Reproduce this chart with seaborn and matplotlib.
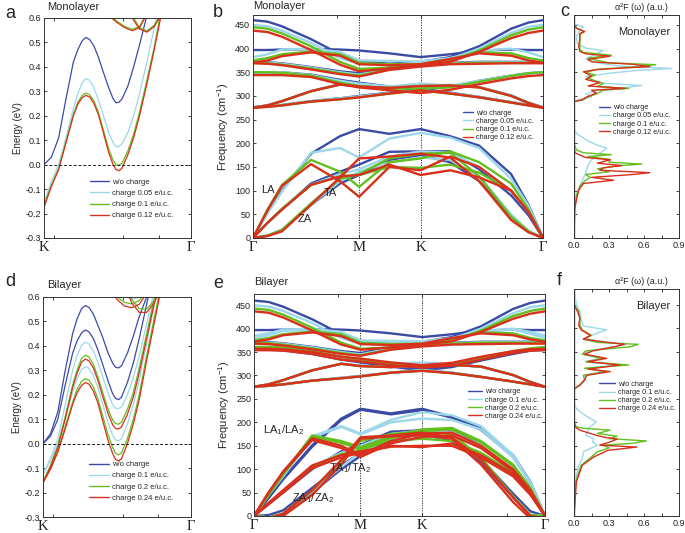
import numpy as np
import matplotlib
matplotlib.use("Agg")
import matplotlib.pyplot as plt
from matplotlib.lines import Line2D
from matplotlib.ticker import FormatStrFormatter, FixedLocator, MultipleLocator
import seaborn as sns

sns.set_theme(style="ticks")
plt.rcParams['font.family'] = ['Liberation Sans', 'DejaVu Sans']
plt.rcParams['axes.unicode_minus'] = False
plt.rcParams['mathtext.fontset'] = 'custom'
plt.rcParams['mathtext.rm'] = 'Liberation Sans'
plt.rcParams['mathtext.it'] = 'Liberation Sans:italic'

colors = ['#3b4ba5', '#9dd8ea', '#63bf1e', '#d8301c']
mono_labels = ['w/o charge', 'charge 0.05 e/u.c.', 'charge 0.1 e/u.c.', 'charge 0.12 e/u.c.']
bi_labels = ['w/o charge', 'charge 0.1 e/u.c.', 'charge 0.2 e/u.c.', 'charge 0.24 e/u.c.']

# ---- conduction bands (K -> Gamma) ----
k_el = [0, 0.05, 0.1, 0.15, 0.2, 0.23, 0.26, 0.285, 0.31, 0.34, 0.37, 0.4, 0.44, 0.47, 0.49, 0.51, 0.53,
        0.57, 0.61, 0.65, 0.7, 0.75, 0.8]
k_top = [0.45, 0.5, 0.55, 0.6, 0.65, 0.7, 0.75, 0.8]

el_mono_wo = [0.0, 0.03, 0.11, 0.27, 0.42, 0.47, 0.507, 0.52, 0.512, 0.485, 0.44, 0.385, 0.315, 0.27, 0.253, 0.255,
              0.268, 0.32, 0.40, 0.49, 0.61, 0.74, 0.87]
el_mono_005 = [-0.155, -0.07, 0.0, 0.11, 0.23, 0.29, 0.335, 0.352, 0.345, 0.315, 0.265, 0.21, 0.13, 0.09, 0.073, 0.074,
               0.085, 0.13, 0.2, 0.29, 0.42, 0.56, 0.7]
el_mono_01 = [-0.165, -0.085, -0.015, 0.095, 0.205, 0.255, 0.283, 0.292, 0.286, 0.26, 0.215, 0.15, 0.065, 0.018, 0.0,
              -0.003, 0.005, 0.055, 0.125, 0.215, 0.345, 0.48, 0.64]
el_mono_012 = [-0.175, -0.09, -0.02, 0.09, 0.2, 0.247, 0.274, 0.283, 0.277, 0.25, 0.205, 0.14, 0.05, 0.0, -0.02,
               -0.025, -0.015, 0.04, 0.11, 0.2, 0.33, 0.47, 0.62]
top_mono_01 = [[0.61, 0.585, 0.565, 0.553, 0.565, 0.62, 0.7, 0.8], [0.9, 0.8, 0.7, 0.61, 0.56, 0.547, 0.57, 0.62]]
top_mono_012 = [[0.605, 0.58, 0.56, 0.548, 0.56, 0.615, 0.69, 0.79], [0.89, 0.79, 0.69, 0.6, 0.555, 0.542, 0.565, 0.615]]

el_bi_wo = [[0.0, 0.04, 0.13, 0.30, 0.45, 0.51, 0.552, 0.565, 0.558, 0.53, 0.485, 0.44, 0.37, 0.33, 0.312, 0.31, 0.318,
             0.37, 0.44, 0.52, 0.6, 0.72, 0.85],
            [0.0, 0.03, 0.10, 0.24, 0.37, 0.42, 0.453, 0.465, 0.458, 0.43, 0.385, 0.33, 0.255, 0.205, 0.185, 0.18, 0.19,
             0.25, 0.33, 0.43, 0.57, 0.71, 0.85]]
el_bi_01 = [[-0.125, -0.06, 0.02, 0.16, 0.30, 0.36, 0.402, 0.415, 0.408, 0.38, 0.335, 0.28, 0.205, 0.16, 0.145, 0.143,
             0.15, 0.2, 0.27, 0.36, 0.49, 0.62, 0.75],
            [-0.125, -0.07, 0.0, 0.11, 0.21, 0.265, 0.302, 0.315, 0.308, 0.28, 0.23, 0.17, 0.085, 0.035, 0.015, 0.012,
             0.02, 0.08, 0.16, 0.26, 0.41, 0.56, 0.71]]
el_bi_02 = [[-0.155, -0.09, -0.01, 0.11, 0.24, 0.3, 0.348, 0.362, 0.355, 0.325, 0.275, 0.215, 0.14, 0.097, 0.082, 0.08,
             0.088, 0.14, 0.21, 0.31, 0.45, 0.59, 0.73],
            [-0.155, -0.10, -0.03, 0.07, 0.17, 0.222, 0.254, 0.266, 0.26, 0.232, 0.185, 0.12, 0.035, -0.015, -0.04,
             -0.046, -0.038, 0.02, 0.1, 0.2, 0.36, 0.51, 0.66]]
el_bi_024 = [[-0.16, -0.095, -0.015, 0.10, 0.23, 0.288, 0.333, 0.346, 0.339, 0.31, 0.26, 0.2, 0.122, 0.078, 0.062, 0.06,
              0.068, 0.12, 0.19, 0.29, 0.43, 0.57, 0.71],
             [-0.16, -0.105, -0.035, 0.06, 0.16, 0.208, 0.238, 0.25, 0.244, 0.215, 0.168, 0.1, 0.012, -0.04, -0.065,
              -0.07, -0.062, 0.0, 0.08, 0.18, 0.34, 0.49, 0.64]]
top_bi_01 = [[0.7, 0.64, 0.605, 0.59, 0.6, 0.64, 0.71, 0.8]]
top_bi_02 = [[0.64, 0.6, 0.578, 0.572, 0.585, 0.63, 0.7, 0.8], [0.9, 0.78, 0.67, 0.59, 0.552, 0.55, 0.585, 0.65]]
top_bi_024 = [[0.63, 0.59, 0.563, 0.556, 0.57, 0.615, 0.69, 0.79], [0.88, 0.76, 0.65, 0.575, 0.537, 0.537, 0.575, 0.64]]

# ---- phonon dispersions, path G-M-K-G ----
q_path = [0, 0.05, 0.1, 0.2, 0.3, 0.366, 0.47, 0.578, 0.68, 0.78, 0.89, 0.95, 1.0]

ph_mono_wo = [
    [0, 55, 100, 178, 215, 230, 220, 230, 215, 195, 135, 70, 0],
    [0, 32, 60, 115, 140, 155, 182, 183, 183, 145, 90, 48, 0],
    [0, 5, 17, 70, 115, 133, 165, 175, 160, 120, 45, 14, 0],
    [460, 457, 447, 420, 388, 374, 368, 372, 382, 405, 442, 455, 460],
    [397, 397, 398, 399, 398, 396, 390, 382, 388, 396, 398, 397, 397],
    [372, 371, 369, 361, 352, 348, 360, 367, 370, 372, 372, 372, 372],
    [350, 350, 350, 345, 334, 328, 320, 312, 320, 332, 343, 348, 350],
    [276, 280, 289, 310, 325, 321, 318, 322, 323, 319, 301, 286, 276],
    [276, 278, 281, 289, 295, 300, 307, 314, 307, 298, 287, 281, 276]]
ph_mono_005 = [
    [0, 52, 98, 180, 190, 170, 210, 222, 212, 190, 125, 68, 0],
    [0, 32, 60, 112, 135, 145, 172, 183, 180, 150, 100, 55, 0],
    [0, 5, 17, 70, 120, 140, 160, 170, 165, 130, 50, 15, 0],
    [450, 447, 438, 412, 380, 368, 366, 370, 378, 400, 433, 446, 450],
    [382, 388, 398, 400, 393, 375, 374, 373, 380, 395, 400, 392, 382],
    [371, 370, 368, 360, 350, 345, 358, 365, 369, 371, 371, 371, 371],
    [350, 350, 350, 344, 332, 326, 320, 326, 322, 332, 343, 348, 350],
    [276, 280, 289, 310, 325, 321, 318, 322, 323, 319, 301, 286, 276],
    [276, 278, 281, 289, 295, 299, 306, 313, 306, 298, 287, 281, 276]]
ph_mono_01 = [
    [0, 60, 112, 165, 140, 108, 160, 168, 183, 160, 115, 60, 0],
    [0, 32, 62, 112, 130, 133, 150, 148, 155, 138, 100, 55, 0],
    [0, 5, 17, 73, 125, 135, 168, 178, 180, 130, 45, 14, 0],
    [445, 442, 432, 405, 372, 357, 360, 366, 374, 396, 428, 440, 445],
    [375, 380, 388, 394, 388, 370, 367, 367, 378, 392, 390, 380, 375],
    [370, 369, 366, 358, 348, 343, 356, 364, 368, 370, 370, 370, 370],
    [350, 350, 349, 343, 328, 321, 315, 316, 318, 330, 342, 348, 350],
    [275, 280, 289, 310, 324, 320, 317, 321, 322, 318, 300, 285, 275],
    [275, 277, 280, 288, 293, 297, 305, 312, 305, 297, 286, 280, 275]]
ph_mono_012 = [
    [0, 58, 110, 156, 120, 87, 150, 143, 172, 150, 100, 55, 0],
    [0, 32, 60, 112, 130, 133, 155, 133, 143, 128, 100, 55, 0],
    [0, 4, 14, 70, 128, 168, 172, 178, 170, 120, 38, 12, 0],
    [438, 435, 425, 397, 366, 352, 358, 365, 372, 393, 422, 433, 438],
    [370, 375, 384, 392, 385, 367, 365, 367, 378, 390, 385, 375, 370],
    [369, 368, 365, 356, 346, 341, 355, 362, 367, 368, 369, 369, 369],
    [344, 344, 344, 340, 325, 318, 312, 306, 313, 325, 337, 342, 344],
    [275, 280, 289, 310, 324, 320, 317, 321, 322, 318, 300, 285, 275],
    [275, 277, 280, 288, 293, 297, 305, 312, 305, 297, 286, 280, 275]]

ph_bi_wo = [
    [0, 40, 80, 151, 208, 229, 219, 229, 212, 187, 130, 73, 0],
    [0, 38, 78, 148, 205, 227, 217, 226, 210, 184, 127, 70, 0],
    [0, 25, 50, 100, 138, 152, 180, 183, 183, 150, 95, 50, 0],
    [0, -3, 4, 50, 100, 128, 165, 175, 160, 115, 40, 2, 0],
    [0, 2, 12, 60, 108, 134, 168, 178, 165, 122, 48, 10, 0],
    [460, 457, 447, 420, 388, 374, 368, 372, 382, 405, 442, 455, 460],
    [397, 397, 398, 399, 398, 396, 390, 382, 388, 396, 398, 397, 397],
    [372, 371, 369, 361, 352, 348, 360, 367, 370, 372, 372, 372, 372],
    [358, 358, 357, 350, 338, 332, 322, 314, 322, 336, 350, 356, 358],
    [355, 355, 354, 346, 334, 328, 319, 311, 318, 332, 346, 353, 355],
    [276, 281, 290, 311, 325, 321, 318, 322, 323, 319, 301, 286, 276],
    [276, 278, 281, 289, 295, 299, 306, 312, 306, 297, 287, 281, 276]]
ph_bi_01 = [
    [0, 45, 85, 170, 192, 176, 205, 222, 215, 192, 130, 72, 0],
    [0, 45, 85, 168, 190, 174, 200, 208, 205, 185, 125, 70, 0],
    [0, 27, 52, 105, 135, 150, 175, 183, 180, 150, 95, 50, 0],
    [0, -3, 5, 52, 105, 135, 165, 172, 165, 120, 42, 3, 0],
    [450, 447, 438, 412, 380, 368, 366, 370, 378, 400, 433, 446, 450],
    [385, 390, 398, 400, 393, 375, 374, 373, 380, 395, 400, 393, 385],
    [380, 386, 395, 398, 390, 372, 372, 371, 378, 393, 398, 389, 380],
    [371, 370, 368, 360, 350, 345, 358, 365, 369, 371, 371, 371, 371],
    [360, 360, 359, 350, 338, 332, 325, 328, 324, 336, 350, 357, 360],
    [276, 281, 290, 311, 325, 321, 318, 322, 323, 319, 301, 286, 276],
    [276, 278, 281, 289, 295, 299, 306, 312, 306, 297, 287, 281, 276]]
ph_bi_02 = [
    [0, 45, 90, 172, 160, 147, 170, 185, 188, 160, 110, 60, 0],
    [0, 45, 88, 169, 156, 143, 166, 182, 185, 157, 107, 58, 0],
    [0, 27, 53, 106, 132, 142, 160, 165, 160, 135, 92, 50, 0],
    [0, -3, 5, 55, 118, 160, 175, 180, 175, 125, 42, 2, 0],
    [443, 440, 430, 402, 370, 357, 360, 366, 374, 396, 427, 438, 443],
    [375, 380, 388, 394, 388, 370, 367, 368, 378, 392, 390, 380, 375],
    [370, 369, 366, 358, 348, 343, 356, 364, 368, 370, 370, 370, 370],
    [361, 361, 360, 352, 340, 334, 325, 320, 324, 338, 352, 358, 361],
    [276, 281, 290, 311, 325, 320, 318, 322, 323, 319, 301, 286, 276],
    [276, 278, 281, 289, 294, 298, 306, 310, 305, 297, 287, 281, 276]]
ph_bi_024 = [
    [0, 50, 95, 166, 150, 130, 160, 176, 178, 150, 100, 55, 0],
    [0, 50, 93, 162, 145, 126, 155, 169, 172, 145, 96, 52, 0],
    [0, 28, 55, 108, 130, 138, 150, 147, 155, 130, 90, 48, 0],
    [0, 25, 50, 102, 125, 135, 148, 150, 150, 125, 85, 45, 0],
    [0, -5, 5, 55, 120, 168, 172, 178, 168, 120, 40, 0, -5],
    [0, -8, 0, 45, 110, 165, 170, 172, 165, 110, 30, -5, -8],
    [437, 434, 424, 396, 366, 355, 360, 366, 373, 393, 421, 432, 437],
    [372, 377, 386, 392, 384, 367, 365, 368, 380, 390, 386, 377, 372],
    [368, 367, 364, 356, 346, 342, 355, 362, 366, 367, 368, 368, 368],
    [357, 357, 356, 350, 340, 336, 328, 322, 327, 340, 352, 356, 357],
    [354, 354, 353, 346, 334, 330, 322, 317, 321, 334, 348, 353, 354],
    [276, 281, 290, 311, 325, 320, 318, 322, 323, 319, 301, 286, 276],
    [276, 278, 281, 289, 294, 298, 306, 310, 305, 297, 287, 281, 276]]

# ---- Eliashberg functions a2F(w) ----
freq_m0 = [0, 471]
a2f_m0 = [0, 0]
freq_m1 = [0, 70, 94, 115, 137, 154, 165, 175, 184, 190, 196, 205, 214, 221, 232, 288, 293, 298, 304, 312,
           318, 322, 327, 334, 341, 348, 354, 358, 363, 370, 378, 388, 396, 401, 410, 425, 440, 446, 452, 471]
a2f_m1 = [0, 0.01, 0.03, 0.06, 0.1, 0.12, 0.15, 0.2, 0.25, 0.28, 0.2, 0.12, 0.06, 0.02, 0.0, 0.0, 0.05, 0.15, 0.1, 0.2,
          0.45, 0.58, 0.25, 0.15, 0.1, 0.3, 0.55, 0.84, 0.4, 0.2, 0.1, 0.18, 0.25, 0.1, 0.03, 0.02, 0.05, 0.08, 0.0, 0.0]
freq_m2 = [0, 60, 90, 110, 122, 128, 134, 140, 146, 152, 156, 160, 166, 172, 176, 180, 186, 200, 288, 292, 298, 305,
           312, 316, 320, 326, 332, 338, 344, 350, 356, 362, 366, 370, 375, 380, 386, 392, 398, 410, 430, 436, 442, 450, 471]
a2f_m2 = [0, 0.005, 0.02, 0.05, 0.1, 0.14, 0.1, 0.3, 0.2, 0.35, 0.58, 0.3, 0.31, 0.12, 0.32, 0.08, 0.02, 0.0, 0.0, 0.08, 0.12, 0.2,
          0.25, 0.47, 0.2, 0.25, 0.18, 0.12, 0.18, 0.1, 0.2, 0.55, 0.7, 0.3, 0.2, 0.12, 0.32, 0.08, 0.05, 0.05, 0.05, 0.09, 0.03, 0.0, 0.0]
freq_m3 = [0, 60, 80, 101, 115, 122, 128, 134, 138, 143, 148, 153, 158, 165, 170, 175, 180, 190, 288, 292, 298, 306,
           312, 316, 321, 328, 335, 342, 351, 356, 362, 367, 372, 377, 384, 389, 394, 405, 420, 432, 436, 443, 450, 471]
a2f_m3 = [0, 0.005, 0.02, 0.04, 0.08, 0.34, 0.15, 0.5, 0.65, 0.22, 0.25, 0.41, 0.2, 0.31, 0.1, 0.05, 0.01, 0.0, 0.0, 0.07, 0.11, 0.19,
          0.15, 0.44, 0.12, 0.22, 0.1, 0.15, 0.08, 0.2, 0.65, 0.5, 0.15, 0.12, 0.31, 0.1, 0.05, 0.04, 0.05, 0.05, 0.09, 0.02, 0.0, 0.0]

freq_b0 = [0, 484]
a2f_b0 = [0, 0]
freq_b1 = [0, 73, 108, 122, 137, 151, 158, 165, 172, 180, 187, 194, 201, 208, 214, 219, 229, 240, 270, 280,
           290, 300, 308, 315, 322, 329, 336, 345, 352, 361, 366, 372, 380, 390, 397, 405, 420, 436, 450, 484]
a2f_b1 = [0, 0.01, 0.04, 0.07, 0.08, 0.2, 0.16, 0.17, 0.1, 0.12, 0.12, 0.16, 0.19, 0.14, 0.1, 0.07, 0.02, 0.0, 0.0, 0.06,
          0.1, 0.09, 0.25, 0.1, 0.38, 0.1, 0.22, 0.08, 0.12, 0.35, 0.45, 0.2, 0.1, 0.2, 0.28, 0.08, 0.06, 0.05, 0.02, 0.0]
freq_b2 = [0, 73, 108, 126, 137, 145, 151, 155, 160, 165, 170, 176, 183, 187, 190, 200, 270, 280, 290, 300,
           308, 315, 322, 329, 336, 345, 352, 361, 366, 370, 377, 385, 397, 407, 422, 436, 450, 484]
a2f_b2 = [0, 0.015, 0.06, 0.15, 0.2, 0.3, 0.25, 0.5, 0.62, 0.3, 0.37, 0.2, 0.31, 0.08, 0.02, 0.0, 0.0, 0.05, 0.09, 0.08,
          0.28, 0.09, 0.47, 0.1, 0.25, 0.07, 0.1, 0.49, 0.55, 0.2, 0.08, 0.15, 0.07, 0.05, 0.05, 0.04, 0.0, 0.0]
freq_b3 = [0, 73, 108, 126, 140, 147, 151, 158, 164, 167, 172, 183, 190, 200, 272, 279, 290, 300, 308, 313,
           322, 329, 336, 345, 352, 361, 366, 370, 377, 385, 397, 407, 422, 436, 450, 484]
a2f_b3 = [0, 0.02, 0.07, 0.17, 0.29, 0.54, 0.22, 0.31, 0.37, 0.28, 0.19, 0.05, 0.01, 0.0, 0.0, 0.05, 0.09, 0.11, 0.31, 0.12,
          0.39, 0.12, 0.28, 0.09, 0.16, 0.35, 0.43, 0.3, 0.08, 0.14, 0.06, 0.04, 0.05, 0.03, 0.0, 0.0]


def draw(ax, x, y, color, lw):
    sns.lineplot(x=x, y=y, color=color, linewidth=lw, estimator=None, sort=False, ax=ax, legend=False)


def style(ax):
    ax.tick_params(which='both', direction='in', length=2.5, width=0.6, top=True, right=True,
                   labelsize=6.5, pad=2, colors='#222222')
    for sp in ax.spines.values():
        sp.set_linewidth(0.7)
        sp.set_color('#333333')
    ax.set_xlabel('')
    ax.set_ylabel('')


def add_legend(ax, labels, x0, y0, hl, fs, ls):
    handles = [Line2D([], [], color=c, lw=1.0) for c in colors]
    ax.legend(handles, labels, loc='upper left', bbox_to_anchor=(x0, y0), frameon=False, fontsize=fs,
              handlelength=hl, handletextpad=0.4, labelspacing=ls, borderpad=0, borderaxespad=0)


def band_panel(ax, curves, tops, labels, leg_y):
    for vals, col in zip(curves, colors):
        for v in vals:
            draw(ax, k_el, v, col, 0.9)
    for t, col in tops:
        for v in t:
            draw(ax, k_top, v, col, 0.9)
    ax.axhline(0, color='k', lw=0.7, ls=(0, (3, 2)))
    ax.set_xlim(0, 1)
    ax.set_ylim(-0.3, 0.6)
    ax.set_yticks(np.arange(-0.3, 0.61, 0.1))
    ax.yaxis.set_major_formatter(FormatStrFormatter('%.1f'))
    ax.set_xticks([0, 1])
    ax.xaxis.set_minor_locator(FixedLocator([0.068, 0.54, 0.78]))
    style(ax)
    ax.set_xticklabels(['K', 'Γ'], fontfamily=['Liberation Serif', 'DejaVu Serif'], fontsize=10.5)
    ax.set_ylabel('Energy (eV)', fontsize=7, labelpad=2)
    add_legend(ax, labels, 0.31, leg_y, 2.6, 5.5, 0.5)


def phonon_panel(ax, states, ytop, labels, leg_x, leg_y, hl):
    for branches, col in zip(states, colors):
        for br in branches:
            draw(ax, q_path, br, col, 1.7)
    for xv in [q_path[5], q_path[7]]:
        ax.axvline(xv, color='k', lw=0.6, ls=(0, (1.5, 1.5)), zorder=0)
    ax.set_xlim(0, 1)
    ax.set_ylim(0, ytop)
    ax.set_yticks(np.arange(0, 451, 50))
    ax.set_xticks([0, q_path[5], q_path[7], 1])
    ax.xaxis.set_minor_locator(FixedLocator([0.29, 0.87]))
    style(ax)
    ax.set_xticklabels(['Γ', 'M', 'K', 'Γ'], fontfamily=['Liberation Serif', 'DejaVu Serif'], fontsize=10.5)
    ax.set_ylabel('Frequency (cm$^{-1}$)', fontsize=8, labelpad=3)
    add_legend(ax, labels, leg_x, leg_y, hl, 5.2, 0.15)


def a2f_panel(ax, freqs, vals, ytop, labels, name, leg_y, hl):
    for f, v, col in zip(freqs, vals, colors):
        draw(ax, v, f, col, 1.0)
    ax.set_xlim(0, 0.9)
    ax.set_ylim(0, ytop)
    ax.set_xticks([0, 0.3, 0.6, 0.9])
    ax.xaxis.set_major_formatter(FormatStrFormatter('%.1f'))
    ax.xaxis.set_minor_locator(MultipleLocator(0.15))
    ax.set_yticks(np.arange(0, 451, 50))
    style(ax)
    ax.set_yticklabels([])
    ax.text(0.64, 1.012, 'α²F (ω) (a.u.)', transform=ax.transAxes, ha='center', va='bottom', fontsize=6.5)
    ax.text(0.915, 0.925, name, transform=ax.transAxes, ha='right', va='center', fontsize=8)
    add_legend(ax, labels, 0.24, leg_y, hl, 5.2, 0.15)


fig = plt.figure(figsize=(6.85, 5.33), dpi=100)

ax_a = fig.add_axes([0.0642, 0.5535, 0.2146, 0.4128])
band_panel(ax_a, [[el_mono_wo], [el_mono_005], [el_mono_01], [el_mono_012]],
           [(top_mono_01, colors[2]), (top_mono_012, colors[3])], mono_labels, 0.27)
ax_a.text(0.02, 1.025, 'Monolayer', transform=ax_a.transAxes, fontsize=8, va='bottom')

ax_b = fig.add_axes([0.3693, 0.5535, 0.4234, 0.4184])
phonon_panel(ax_b, [ph_mono_wo, ph_mono_005, ph_mono_01, ph_mono_012], 471, mono_labels, 0.724, 0.575, 1.4)
ax_b.text(0.0, 1.02, 'Monolayer', transform=ax_b.transAxes, fontsize=8, va='bottom')
ax_b.text(0.052, 101, 'LA', fontsize=8, ha='center', va='center')
ax_b.text(0.266, 95, 'TA', fontsize=8, ha='center', va='center')
ax_b.text(0.179, 40, 'ZA', fontsize=8, ha='center', va='center')

ax_c = fig.add_axes([0.8380, 0.5535, 0.1533, 0.4184])
a2f_panel(ax_c, [freq_m0, freq_m1, freq_m2, freq_m3], [a2f_m0, a2f_m1, a2f_m2, a2f_m3], 471,
          mono_labels, 'Monolayer', 0.6, 1.5)

ax_d = fig.add_axes([0.0628, 0.0300, 0.2161, 0.4128])
band_panel(ax_d, [el_bi_wo, el_bi_01, el_bi_02, el_bi_024],
           [(top_bi_01, colors[1]), (top_bi_02, colors[2]), (top_bi_024, colors[3])], bi_labels, 0.255)
ax_d.text(0.03, 1.03, 'Bilayer', transform=ax_d.transAxes, fontsize=8, va='bottom')

ax_e = fig.add_axes([0.3708, 0.0319, 0.4248, 0.4165])
phonon_panel(ax_e, [ph_bi_wo, ph_bi_01, ph_bi_02, ph_bi_024], 474, bi_labels, 0.735, 0.575, 2.0)
ax_e.text(0.0, 1.03, 'Bilayer', transform=ax_e.transAxes, fontsize=8, va='bottom')
ax_e.text(0.1, 183, 'LA$_1$/LA$_2$', fontsize=8, ha='center', va='center')
ax_e.text(0.33, 102, 'TA$_1$/TA$_2$', fontsize=8, ha='center', va='center')
ax_e.text(0.203, 38, 'ZA$_1$/ZA$_2$', fontsize=8, ha='center', va='center')

ax_f = fig.add_axes([0.8380, 0.0319, 0.1533, 0.4259])
a2f_panel(ax_f, [freq_b0, freq_b1, freq_b2, freq_b3], [a2f_b0, a2f_b1, a2f_b2, a2f_b3], 484,
          bi_labels, 'Bilayer', 0.595, 2.2)

for letter, x, y in [('a', 0.007, 0.974), ('b', 0.311, 0.976), ('c', 0.8175, 0.978),
                     ('d', 0.007, 0.471), ('e', 0.311, 0.469), ('f', 0.813, 0.473)]:
    fig.text(x, y, letter, fontsize=13, ha='left', va='center')

fig.savefig('out.png', dpi=100)
